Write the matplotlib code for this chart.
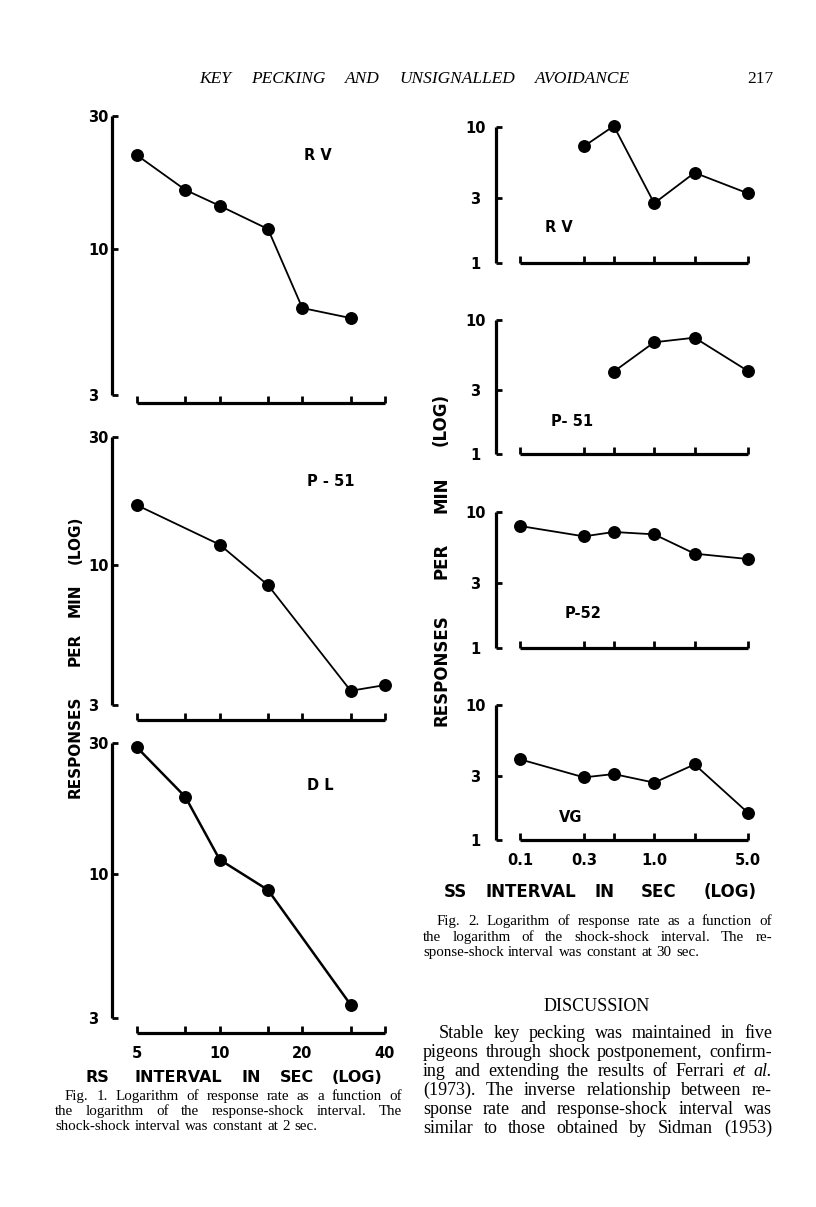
import matplotlib
matplotlib.use("Agg")
import matplotlib.pyplot as plt
from matplotlib.ticker import NullLocator, FixedLocator, FixedFormatter

W, H = 816, 1207

# ---------------- data ----------------
rs_ticks = [5, 7.5, 10, 15, 20, 30, 40]
rs_ticklabels = ['5', '', '10', '', '20', '', '40']
rs_yticks = [3, 10, 30]
rs_yticklabels = ['3', '10', '30']

rv_rs_x = [5, 7.5, 10, 15, 20, 30]
rv_rs_y = [21.7, 16.3, 14.3, 11.8, 6.15, 5.66]
p51_rs_x = [5, 10, 15, 30, 40]
p51_rs_y = [16.7, 11.9, 8.4, 3.39, 3.56]
dl_rs_x = [5, 7.5, 10, 15, 30]
dl_rs_y = [28.9, 19.1, 11.3, 8.76, 3.35]

ss_ticks = [0.1, 0.3, 0.5, 1.0, 2.0, 5.0]
ss_ticklabels = ['0.1', '0.3', '', '1.0', '', '5.0']
ss_yticks = [1, 3, 10]
ss_yticklabels = ['1', '3', '10']

rv_ss_x = [0.3, 0.5, 1.0, 2.0, 5.0]
rv_ss_y = [7.22, 10.17, 2.75, 4.61, 3.25]
p51_ss_x = [0.5, 1.0, 2.0, 5.0]
p51_ss_y = [4.12, 6.82, 7.38, 4.16]
p52_ss_x = [0.1, 0.3, 0.5, 1.0, 2.0, 5.0]
p52_ss_y = [7.89, 6.62, 7.13, 6.85, 4.94, 4.51]
vg_ss_x = [0.1, 0.3, 0.5, 1.0, 2.0, 5.0]
vg_ss_y = [3.96, 2.91, 3.08, 2.66, 3.63, 1.59]

fig = plt.figure(figsize=(W / 100, H / 100), dpi=100)
fig.patch.set_facecolor('white')
SANS = 'DejaVu Sans'
SERIF = 'Liberation Serif'
PT = 0.72  # points per pixel at 100 dpi


def make_ax(x0, x1, ytop, ybot, xlim, ylim, xticks, xlabels, yticks, ylabels,
            left_off, bottom_off, show_xlabels, ylab_ha, ylab_pad, xlab_pad):
    ax = fig.add_axes([x0 / W, 1 - ybot / H, (x1 - x0) / W, (ybot - ytop) / H])
    ax.set_xscale('log')
    ax.set_yscale('log')
    ax.set_xlim(*xlim)
    ax.set_ylim(*ylim)
    for s in ('top', 'right'):
        ax.spines[s].set_visible(False)
    ax.spines['left'].set_position(('outward', left_off * PT))
    ax.spines['bottom'].set_position(('outward', bottom_off * PT))
    ax.spines['left'].set_bounds(*ylim)
    ax.spines['bottom'].set_bounds(*xlim)
    for s in ('left', 'bottom'):
        ax.spines[s].set_linewidth(2.3)
        ax.spines[s].set_capstyle('butt')
    ax.xaxis.set_major_locator(FixedLocator(xticks))
    ax.xaxis.set_minor_locator(NullLocator())
    ax.yaxis.set_major_locator(FixedLocator(yticks))
    ax.yaxis.set_minor_locator(NullLocator())
    ax.xaxis.set_major_formatter(FixedFormatter(xlabels if show_xlabels else [''] * len(xticks)))
    ax.yaxis.set_major_formatter(FixedFormatter(ylabels))
    ax.tick_params(axis='x', direction='in', length=5, width=2.0, pad=xlab_pad,
                   labelsize=10.5)
    ax.tick_params(axis='y', direction='in', length=4.5, width=2.0, pad=ylab_pad,
                   labelsize=10.5)
    for lab in ax.get_xticklabels() + ax.get_yticklabels():
        lab.set_fontfamily(SANS)
        lab.set_fontweight('bold')
    for lab in ax.get_yticklabels():
        lab.set_horizontalalignment(ylab_ha)
    ax.patch.set_alpha(0)
    return ax


def plot_series(ax, x, y, lw=1.3):
    ax.plot(x, y, color='black', lw=lw, marker='o', ms=8.3, mfc='black',
            mec='black', clip_on=False, zorder=5)


# ---------------- Fig. 1 (left) ----------------
LX0, LX1 = 137, 385
left_panels = [
    (116, 395, 8, rv_rs_x, rv_rs_y, 1.3, False),
    (437, 705, 15, p51_rs_x, p51_rs_y, 1.3, False),
    (743, 1018, 15, dl_rs_x, dl_rs_y, 1.8, True),
]
for ytop, ybot, boff, xs, ys, lw, showx in left_panels:
    ax = make_ax(LX0, LX1, ytop, ybot, (5, 40), (3, 30), rs_ticks, rs_ticklabels,
                 rs_yticks, rs_yticklabels, 25, boff, showx, 'left', 17.3, 9.5)
    plot_series(ax, xs, ys, lw)

# ---------------- Fig. 2 (right) ----------------
RX0, RX1 = 520, 748
right_panels = [
    (127, 263, rv_ss_x, rv_ss_y, False),
    (320, 454, p51_ss_x, p51_ss_y, False),
    (512, 648, p52_ss_x, p52_ss_y, False),
    (705, 840, vg_ss_x, vg_ss_y, True),
]
for ytop, ybot, xs, ys, showx in right_panels:
    ax = make_ax(RX0, RX1, ytop, ybot, (0.1, 5.0), (1, 10), ss_ticks, ss_ticklabels,
                 ss_yticks, ss_yticklabels, 24, 0, showx, 'center', 15, 9.5)
    plot_series(ax, xs, ys, 1.3)


def ftext(x, y, s, **kw):
    return fig.text(x / W, 1 - y / H, s, **kw)


bold = dict(family=SANS, weight='bold', color='black')

# panel names
ftext(318, 155, 'R V', ha='center', va='center', fontsize=10.5, **bold)
ftext(331, 482, 'P - 51', ha='center', va='center', fontsize=10.5, **bold)
ftext(320, 785, 'D L', ha='center', va='center', fontsize=10.5, **bold)
ftext(559, 228, 'R V', ha='center', va='center', fontsize=10.5, **bold)
ftext(572, 422, 'P- 51', ha='center', va='center', fontsize=10.5, **bold)
ftext(583, 613, 'P-52', ha='center', va='center', fontsize=10.5, **bold)
ftext(571, 818, 'VG', ha='center', va='center', fontsize=10.5, **bold)

# axis titles, placed word by word (wide lettering)
for word, cx in [('RS', 97), ('INTERVAL', 178), ('IN', 251), ('SEC', 297), ('(LOG)', 357)]:
    ftext(cx, 1077, word, ha='center', va='center', fontsize=11.5, **bold)
for word, cx in [('SS', 455), ('INTERVAL', 531), ('IN', 605), ('SEC', 659), ('(LOG)', 730)]:
    ftext(cx, 892, word, ha='center', va='center', fontsize=12, **bold)
for word, cy in [('(LOG)', 540), ('MIN', 600), ('PER', 649), ('RESPONSES', 747)]:
    ftext(75, cy, word, ha='center', va='center', rotation=90, fontsize=11, **bold)
for word, cy in [('(LOG)', 419), ('MIN', 495), ('PER', 561), ('RESPONSES', 670)]:
    ftext(441, cy, word, ha='center', va='center', rotation=90, fontsize=12, **bold)

# ---------------- page text ----------------
renderer = fig.canvas.get_renderer()


def place_line(words, x0, x1, yb, size, justify=True, family=SERIF, default_style='normal'):
    objs = []
    for w in words:
        if isinstance(w, tuple):
            txt, style = w
        else:
            txt, style = w, default_style
        objs.append(ftext(0, yb, txt, fontsize=size, family=family, style=style,
                          va='baseline', ha='left', color='black'))
    widths = [t.get_window_extent(renderer).width for t in objs]
    if justify and len(objs) > 1:
        gap = (x1 - x0 - sum(widths)) / (len(objs) - 1)
    else:
        gap = size * 0.3 / PT
    x = x0
    for t, w in zip(objs, widths):
        t.set_x(x / W)
        x += w + gap


# running head
place_line('KEY PECKING AND UNSIGNALLED AVOIDANCE'.split(), 199, 630, 83, 12.5,
           default_style='italic')
ftext(773, 83, '217', ha='right', va='baseline', fontsize=12.5, family=SERIF)

# Fig. 1 caption
cap1 = [
    ('Fig. 1. Logarithm of response rate as a function of', 65, True),
    ('the logarithm of the response-shock interval. The', 55, True),
    ('shock-shock interval was constant at 2 sec.', 55, False),
]
for (line, x0, just), yb in zip(cap1, [1100, 1115, 1130]):
    place_line(line.split(), x0, 402, yb, 10.8, justify=just)

# Fig. 2 caption
cap2 = [
    ('Fig. 2. Logarithm of response rate as a function of', 437, True),
    ('the logarithm of the shock-shock interval. The re-', 423, True),
    ('sponse-shock interval was constant at 30 sec.', 423, False),
]
for (line, x0, just), yb in zip(cap2, [925, 941, 956]):
    place_line(line.split(), x0, 772, yb, 10.8, justify=just)

ftext(597, 1011, 'DISCUSSION', ha='center', va='baseline', fontsize=13, family=SERIF)

para = [
    ('Stable key pecking was maintained in five'.split(), 439),
    ('pigeons through shock postponement, confirm-'.split(), 423),
    ('ing and extending the results of Ferrari'.split() + [('et', 'italic'), ('al.', 'italic')], 423),
    ('(1973). The inverse relationship between re-'.split(), 423),
    ('sponse rate and response-shock interval was'.split(), 423),
    ('similar to those obtained by Sidman (1953)'.split(), 423),
]
for (words, x0), yb in zip(para, [1038, 1057, 1076, 1095, 1114, 1133]):
    place_line(words, x0, 772, yb, 13, justify=True)

fig.savefig('out.png', dpi=100, facecolor='white')
